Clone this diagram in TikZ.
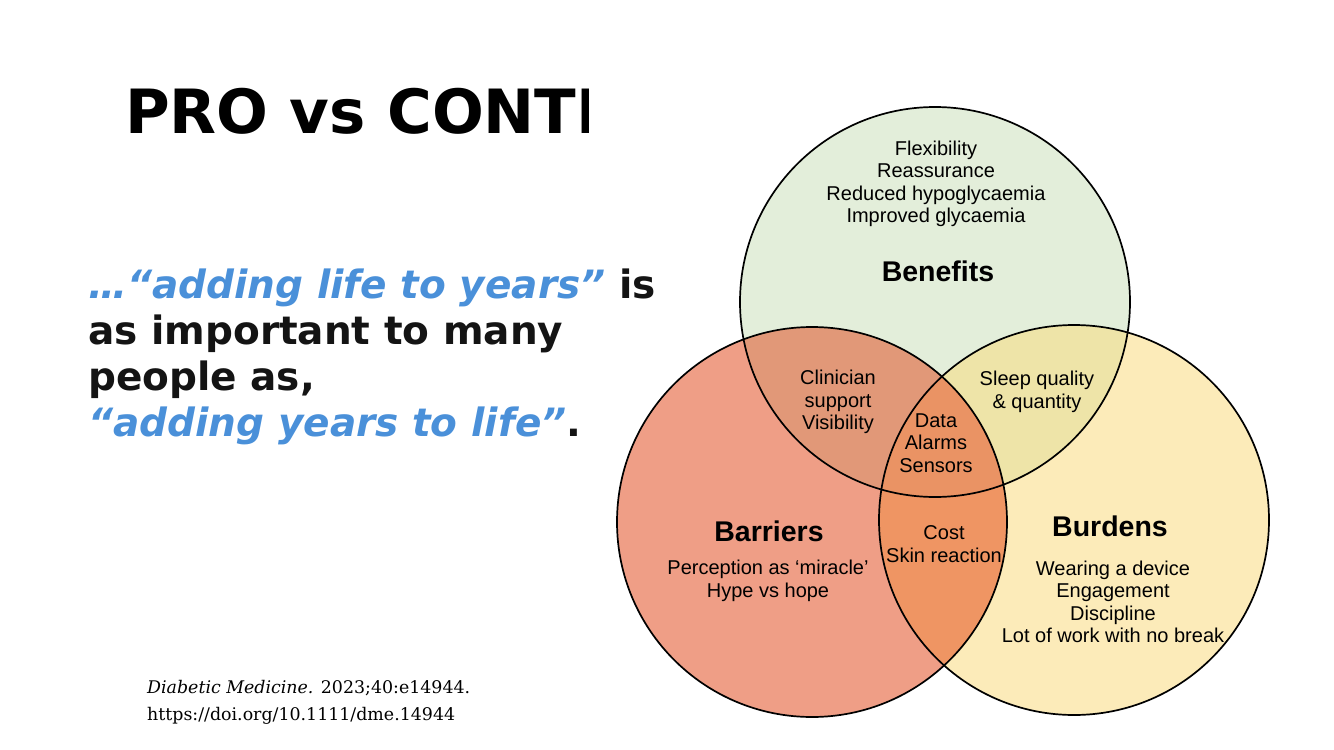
\documentclass[tikz,border=0pt]{standalone}
\usepackage{fontspec}
\setmainfont{DejaVu Sans}
\newfontfamily\vennfont{Liberation Sans}
\newfontfamily\citefont{DejaVu Serif}
\definecolor{quoteblue}{RGB}{74,144,217}
\definecolor{quoteblack}{RGB}{20,20,20}
\definecolor{benefitcolor}{RGB}{227,238,218}
\definecolor{barriercolor}{RGB}{239,158,134}
\definecolor{burdencolor}{RGB}{252,235,185}
\definecolor{clinicolor}{RGB}{225,152,120}
\definecolor{sleepcolor}{RGB}{238,228,168}
\definecolor{costcolor}{RGB}{239,149,99}
\definecolor{datacolor}{RGB}{234,147,100}

\begin{document}
\begin{tikzpicture}[
    x=1pt, y=-1pt,
    slidetitle/.style={font=\fontsize{61}{73}\selectfont\bfseries, anchor=base west, inner sep=0},
    quoteline/.style={font=\fontsize{39}{46}\selectfont\bfseries, text=quoteblack, anchor=base west, inner sep=0},
    venntext/.style={font=\vennfont\fontsize{20}{22.5}\selectfont, align=center, inner sep=0},
    venntitle/.style={font=\vennfont\fontsize{28.5}{32}\selectfont\bfseries, inner sep=0},
    ring/.style={draw=black, line width=1.7pt},
    citeline/.style={font=\citefont\fontsize{17.4}{27}\selectfont, anchor=base west, inner sep=0}
]
\useasboundingbox (0,0) rectangle (1334,750);

% Title (cut off by the figure)
\begin{scope}
\clip (0,0) rectangle (588,750);
\node[slidetitle] (title) at (125,133) {PRO vs CONTRO};
\end{scope}

% Quote
\node[quoteline] (q1) at (88,298) {\textcolor{quoteblue}{\itshape …“adding life to years”} is};
\node[quoteline] (q2) at (88,344) {as important to many};
\node[quoteline] (q3) at (88,390) {people as,};
\node[quoteline] (q4) at (88,436) {\textcolor{quoteblue}{\itshape “adding years to life”}.};

% Reference
\node[citeline] (c1) at (147,693) {\textit{Diabetic Medicine.} 2023;40:e14944.};
\node[citeline] (c2) at (147,720) {https://doi.org/10.1111/dme.14944};

% Venn circles
\coordinate (ben) at (935,302);
\coordinate (bar) at (812,522);
\coordinate (bur) at (1074,520);

\fill[benefitcolor] (ben) circle[radius=195];
\fill[barriercolor] (bar) circle[radius=195];
\fill[burdencolor] (bur) circle[radius=195];

% Overlaps
\begin{scope}
\clip (bar) circle[radius=195];
\fill[clinicolor] (ben) circle[radius=195];
\fill[costcolor] (bur) circle[radius=195];
\end{scope}
\begin{scope}
\clip (ben) circle[radius=195];
\fill[sleepcolor] (bur) circle[radius=195];
\clip (bur) circle[radius=195];
\fill[datacolor] (bar) circle[radius=195];
\end{scope}

\draw[ring] (ben) circle[radius=195];
\draw[ring] (bar) circle[radius=195];
\draw[ring] (bur) circle[radius=195];

% Benefits
\node[venntext] (benlist) at (936,184) {Flexibility\\Reassurance\\Reduced hypoglycaemia\\Improved glycaemia};
\node[venntitle] (benname) at (938,271) {Benefits};

% Overlap texts
\node[venntext] (clinic) at (838,402) {Clinician\\support\\Visibility};
\node[venntext] (sleep) at (1037,392) {Sleep quality\\\& quantity};
\node[venntext] (data) at (936,443) {Data\\Alarms\\Sensors};
\node[venntext] (cost) at (944,544) {Cost\\Skin reaction};

% Barriers
\node[venntitle] (barname) at (769,531) {Barriers};
\node[venntext] (barlist) at (768,581) {Perception as ‘miracle’\\Hype vs hope};

% Burdens
\node[venntitle] (burname) at (1110,526) {Burdens};
\node[venntext] (burlist) at (1113,602) {Wearing a device\\Engagement\\Discipline\\Lot of work with no break};

\end{tikzpicture}
\end{document}
